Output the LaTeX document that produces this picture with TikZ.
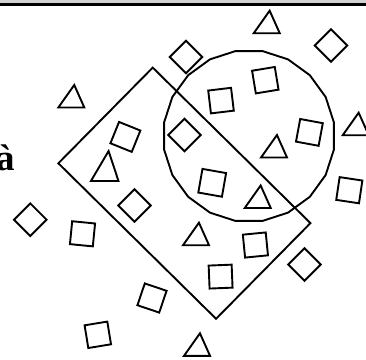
\documentclass[tikz,border=0pt]{standalone}
\usepackage{fontspec}
\setmainfont{Liberation Serif}
\usetikzlibrary{shapes.geometric}
\definecolor{bargray}{RGB}{210,210,210}

\begin{document}
\begin{tikzpicture}[
    x=1pt, y=-1pt,
    sq/.style={rectangle, draw, line width=1.9pt, minimum size=23pt, inner sep=0pt},
    dia/.style={sq, rotate=45},
    tri/.style={regular polygon, regular polygon sides=3, draw, line width=1.9pt, minimum size=30pt, inner sep=0pt, xslant=0.13},
    region/.style={draw, line width=1.9pt, inner sep=0pt}
]
\useasboundingbox (0,0) rectangle (366,359);

% top rule
\fill[bargray] (0,0) rectangle (366,3);
\draw[line width=3pt] (0,4.5) -- (366,4.5);

% letter
\node[font=\fontsize{37}{37}\selectfont\bfseries, inner sep=0pt, anchor=base east] (lettera) at (15,170) {à};

% regions
\node[region, minimum width=221.5pt, minimum height=134.4pt, rotate=-44.6] (box) at (184.4,193.2) {};
\node[region, regular polygon, regular polygon sides=20, minimum size=172pt] (circ) at (249,136) {};

% squares
\node[sq, rotate=9.4] (sq1) at (265.3,80.2) {};
\node[sq, rotate=6.8] (sq2) at (221,100.6) {};
\node[sq, rotate=-22] (sq3) at (125.4,136.9) {};
\node[sq, rotate=-10.5] (sq4) at (309.4,132.4) {};
\node[sq, rotate=-10, minimum size=24pt] (sq5) at (212.2,182.8) {};
\node[sq, rotate=-8.5] (sq6) at (349.3,190.2) {};
\node[sq, rotate=-5.6] (sq7) at (82.5,233.8) {};
\node[sq, rotate=5.6] (sq8) at (255.4,245) {};
\node[sq, rotate=2.3] (sq9) at (220.6,276.6) {};
\node[sq, rotate=-18.7] (sq10) at (152,298) {};
\node[sq, rotate=9.3] (sq11) at (97.8,334.8) {};

% diamonds
\node[dia] (dia1) at (331,45.5) {};
\node[dia] (dia2) at (186,57) {};
\node[dia] (dia3) at (184.5,135) {};
\node[dia] (dia4) at (134.5,205.5) {};
\node[dia] (dia5) at (30.3,219.7) {};
\node[dia] (dia6) at (304.5,264.5) {};

% triangles
\node[tri] (tri1) at (267.7,25.7) {};
\node[tri] (tri2) at (72.3,100) {};
\node[tri] (tri3) at (356.7,127.7) {};
\node[tri] (tri4) at (275,150) {};
\node[tri, yscale=1.33, xscale=1.06] (tri5) at (106,171) {};
\node[tri] (tri6) at (258.7,200.5) {};
\node[tri] (tri7) at (197,237.7) {};
\node[tri] (tri8) at (198,348.3) {};

\end{tikzpicture}
\end{document}
